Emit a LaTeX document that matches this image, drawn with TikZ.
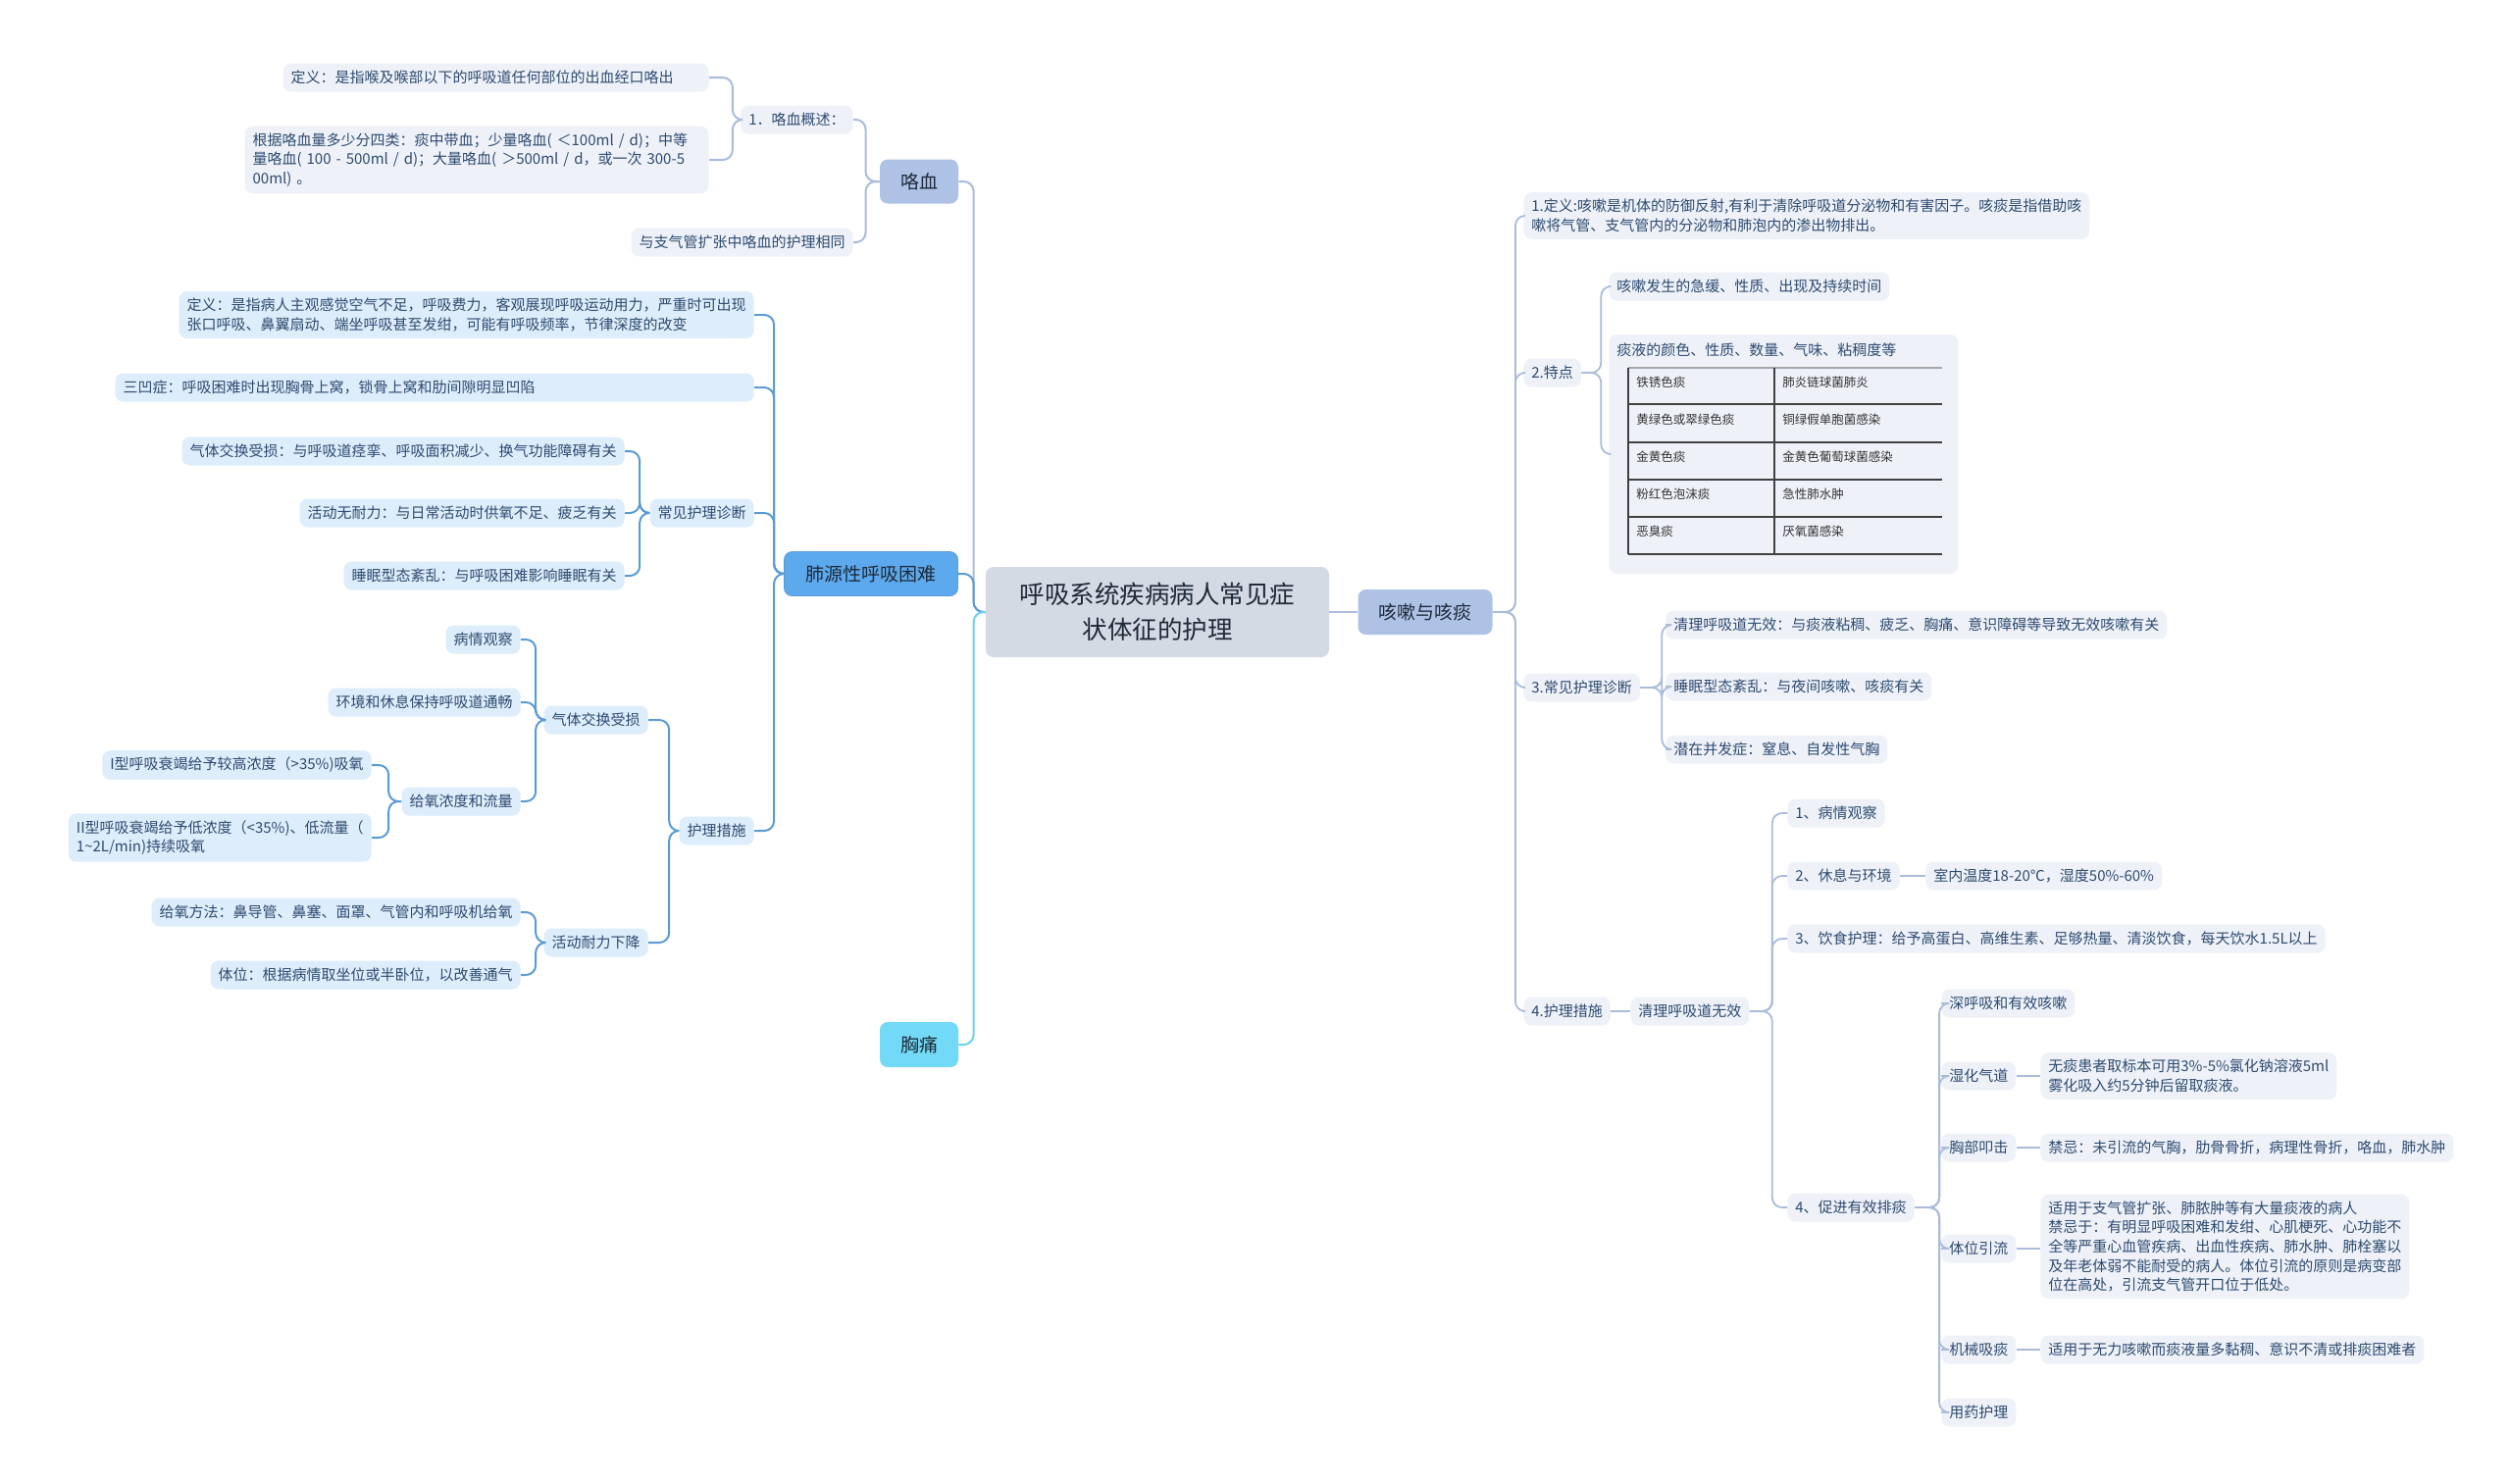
\documentclass[tikz,border=0pt]{standalone}
\usepackage{fontspec}
\setmainfont{Noto Sans CJK SC}
\definecolor{cTxt}{HTML}{2E4A70}
\definecolor{cDark}{HTML}{1E2A38}
\definecolor{cCtr}{HTML}{D4DAE4}
\definecolor{cHx}{HTML}{AEC2E6}
\definecolor{cHxLn}{HTML}{A8BCDD}
\definecolor{cFy}{HTML}{5DA9EE}
\definecolor{cFyLn}{HTML}{5B9BD5}
\definecolor{cFyLf}{HTML}{DDEDFB}
\definecolor{cXt}{HTML}{72DAF6}
\definecolor{cXtLn}{HTML}{6CD3F0}
\definecolor{cLf}{HTML}{EEF2F8}
\definecolor{cKsLn}{HTML}{AABCDA}

\begin{document}
\begin{tikzpicture}[x=0.5pt,y=-0.5pt,
    base/.style={rounded corners=4pt,inner xsep=4pt,inner ysep=3.5pt,minimum height=14.5pt,
                 font=\fontsize{7.5}{9.8}\selectfont,text=cTxt,align=left},
    lfhx/.style={base,fill=cLf,anchor=east},
    lffy/.style={base,fill=cFyLf,anchor=east},
    lfks/.style={base,fill=cLf,anchor=west},
    topic/.style={rounded corners=4pt,font=\fontsize{9.5}{11}\selectfont,text=cDark,
                  minimum height=22.5pt,inner xsep=5pt},
    lnhx/.style={draw=cHxLn,line width=1pt,rounded corners=5pt},
    lnfy/.style={draw=cFyLn,line width=1pt,rounded corners=5pt},
    lnxt/.style={draw=cXtLn,line width=1pt,rounded corners=5pt},
    lnks/.style={draw=cKsLn,line width=0.9pt,rounded corners=5pt}]

\fill[white] (0,0) rectangle (2560,1512);
\useasboundingbox (0,0) rectangle (2560,1512);

% centre and main topics
\node[rounded corners=4pt,fill=cCtr,minimum width=175pt,minimum height=46pt,align=center,
      font=\fontsize{12.75}{18}\selectfont,text=cDark] (ctr) at (1180,624)
      {呼吸系统疾病病人常见症\\状体征的护理};
\node[topic,fill=cHx,minimum width=40pt] (hx) at (937,185) {咯血};
\node[topic,fill=cFy,draw=cFyLn,line width=0.4pt,minimum width=88.5pt] (fy) at (888,585) {肺源性呼吸困难};
\node[topic,fill=cXt,minimum width=40pt,minimum height=23pt] (xt) at (937,1065) {胸痛};
\node[topic,fill=cHx,minimum width=68.5pt,minimum height=23pt] (ks) at (1453,624) {咳嗽与咳痰};

\draw[lnhx] (ctr.west) -- ++(-12,0) |- (hx.east);
\draw[lnfy] (ctr.west) -- ++(-12,0) |- (fy.east);
\draw[lnxt] (ctr.west) -- ++(-12,0) |- (xt.east);
\draw[lnks] (ctr.east) -- (ks.west);

% hemoptysis
\node[lfhx] (hxgs) at (870,122) {1．咯血概述：};
\node[lfhx] (hxhl) at (870,247) {与支气管扩张中咯血的护理相同};
\node[lfhx,text width=209pt] (hxdy) at (723,79) {定义：是指喉及喉部以下的呼吸道任何部位的出血经口咯出};
\node[lfhx,text width=228.5pt] (hxfl) at (723,163) {根据咯血量多少分四类：痰中带血；少量咯血( ＜100ml / d)；中等\\量咯血( 100 - 500ml / d)；大量咯血( ＞500ml / d，或一次 300-5\\00ml) 。};

\draw[lnhx] (hx.west) -- ++(-14,0) |- (hxgs.east);
\draw[lnhx] (hx.west) -- ++(-14,0) |- (hxhl.east);
\draw[lnhx] (hxgs.west) -- ++(-8,0) |- (hxdy.east);
\draw[lnhx] (hxgs.west) -- ++(-8,0) |- (hxfl.east);

% dyspnoea
\node[lffy] (fdy) at (769,321) {定义：是指病人主观感觉空气不足，呼吸费力，客观展现呼吸运动用力，严重时可出现\\张口呼吸、鼻翼扇动、端坐呼吸甚至发绀，可能有呼吸频率，节律深度的改变};
\node[lffy,text width=317.5pt] (fsa) at (769,395) {三凹症：呼吸困难时出现胸骨上窝，锁骨上窝和肋间隙明显凹陷};
\node[lffy] (fzd) at (769,523) {常见护理诊断};
\node[lffy] (fcs) at (769,847) {护理措施};

\node[lffy] (zd1) at (637,460) {气体交换受损：与呼吸道痉挛、呼吸面积减少、换气功能障碍有关};
\node[lffy] (zd2) at (637,523) {活动无耐力：与日常活动时供氧不足、疲乏有关};
\node[lffy] (zd3) at (637,587) {睡眠型态紊乱：与呼吸困难影响睡眠有关};

\node[lffy] (cs1) at (661,734) {气体交换受损};
\node[lffy] (cs2) at (661,961) {活动耐力下降};
\node[lffy] (q1) at (531,652) {病情观察};
\node[lffy] (q2) at (531,716) {环境和休息保持呼吸道通畅};
\node[lffy] (q3) at (531,817) {给氧浓度和流量};
\node[lffy] (y1) at (379,780) {I型呼吸衰竭给予较高浓度（>35\%)吸氧};
\node[lffy] (y2) at (379,854) {II型呼吸衰竭给予低浓度（<35\%)、低流量（\\1{\textasciitilde}2L/min)持续吸氧};
\node[lffy] (h1) at (531,930) {给氧方法：鼻导管、鼻塞、面罩、气管内和呼吸机给氧};
\node[lffy] (h2) at (531,994) {体位：根据病情取坐位或半卧位，以改善通气};

\draw[lnfy] (fy.west) -- ++(-10,0) |- (fdy.east);
\draw[lnfy] (fy.west) -- ++(-10,0) |- (fsa.east);
\draw[lnfy] (fy.west) -- ++(-10,0) |- (fzd.east);
\draw[lnfy] (fy.west) -- ++(-10,0) |- (fcs.east);
\draw[lnfy] (fzd.west) -- ++(-10,0) |- (zd1.east);
\draw[lnfy] (fzd.west) -- ++(-10,0) |- (zd2.east);
\draw[lnfy] (fzd.west) -- ++(-10,0) |- (zd3.east);
\draw[lnfy] (fcs.west) -- ++(-10,0) |- (cs1.east);
\draw[lnfy] (fcs.west) -- ++(-10,0) |- (cs2.east);
\draw[lnfy] (cs1.west) -- ++(-8,0) |- (q1.east);
\draw[lnfy] (cs1.west) -- ++(-8,0) |- (q2.east);
\draw[lnfy] (cs1.west) -- ++(-8,0) |- (q3.east);
\draw[lnfy] (q3.west) -- ++(-13,0) |- (y1.east);
\draw[lnfy] (q3.west) -- ++(-13,0) |- (y2.east);
\draw[lnfy] (cs2.west) -- ++(-8,0) |- (h1.east);
\draw[lnfy] (cs2.west) -- ++(-8,0) |- (h2.east);

% cough and sputum
\node[lfks] (kdy) at (1553,220) {1.定义:咳嗽是机体的防御反射,有利于清除呼吸道分泌物和有害因子。咳痰是指借助咳\\嗽将气管、支气管内的分泌物和肺泡内的渗出物排出。};
\node[lfks] (ktd) at (1553,380) {2.特点};
\node[lfks] (kzd) at (1553,701) {3.常见护理诊断};
\node[lfks] (kcs) at (1553,1031) {4.护理措施};

\node[lfks] (t1) at (1640,292) {咳嗽发生的急缓、性质、出现及持续时间};
\node[rounded corners=4pt,fill=cLf,anchor=west,minimum width=178pt,minimum height=122pt] (tbl) at (1640,463) {};
\node[base,anchor=west,inner sep=0pt] (tbt) at (1648,357) {痰液的颜色、性质、数量、气味、粘稠度等};
\draw[gray!70,line width=0.6pt] (1660,375) -- (1980,375);
\foreach \y in {412,451,489,527,565}
  \draw[black!75,line width=0.6pt] (1660,\y) -- (1980,\y);
\draw[black!75,line width=0.6pt] (1660,375) -- (1660,565) (1809,375) -- (1809,565);
\foreach \a/\b [count=\i] in {铁锈色痰/肺炎链球菌肺炎,黄绿色或翠绿色痰/铜绿假单胞菌感染,
    金黄色痰/金黄色葡萄球菌感染,粉红色泡沫痰/急性肺水肿,恶臭痰/厌氧菌感染}{
  \node[anchor=west,inner sep=0pt,font=\fontsize{6.25}{7}\selectfont,text=black!80] (ca\i) at (1668,{375+38*(\i-1)+15}) {\a};
  \node[anchor=west,inner sep=0pt,font=\fontsize{6.25}{7}\selectfont,text=black!80] (cb\i) at (1817,{375+38*(\i-1)+15}) {\b};
}

\node[lfks] (z1) at (1698,637) {清理呼吸道无效：与痰液粘稠、疲乏、胸痛、意识障碍等导致无效咳嗽有关};
\node[lfks] (z2) at (1698,700) {睡眠型态紊乱：与夜间咳嗽、咳痰有关};
\node[lfks] (z3) at (1698,764) {潜在并发症：窒息、自发性气胸};

\node[lfks] (qlw) at (1662,1031) {清理呼吸道无效};
\node[lfks] (c1) at (1822,829) {1、病情观察};
\node[lfks] (c2) at (1822,893) {2、休息与环境};
\node[lfks] (c2a) at (1963,893) {室内温度18-20℃，湿度50\%-60\%};
\node[lfks] (c3) at (1822,957) {3、饮食护理：给予高蛋白、高维生素、足够热量、清淡饮食，每天饮水1.5L以上};
\node[lfks] (c4) at (1822,1231) {4、促进有效排痰};

\node[lfks] (p1) at (1979,1023) {深呼吸和有效咳嗽};
\node[lfks] (p2) at (1979,1097) {湿化气道};
\node[lfks] (p2a) at (2080,1097) {无痰患者取标本可用3\%-5\%氯化钠溶液5ml\\雾化吸入约5分钟后留取痰液。};
\node[lfks] (p3) at (1979,1170) {胸部叩击};
\node[lfks] (p3a) at (2080,1170) {禁忌：未引流的气胸，肋骨骨折，病理性骨折，咯血，肺水肿};
\node[lfks] (p4) at (1979,1273) {体位引流};
\node[lfks] (p4a) at (2080,1271) {适用于支气管扩张、肺脓肿等有大量痰液的病人\\禁忌于：有明显呼吸困难和发绀、心肌梗死、心功能不\\全等严重心血管疾病、出血性疾病、肺水肿、肺栓塞以\\及年老体弱不能耐受的病人。体位引流的原则是病变部\\位在高处，引流支气管开口位于低处。};
\node[lfks] (p5) at (1979,1376) {机械吸痰};
\node[lfks] (p5a) at (2080,1376) {适用于无力咳嗽而痰液量多黏稠、意识不清或排痰困难者};
\node[lfks] (p6) at (1979,1440) {用药护理};

\draw[lnks] (ks.east) -- ++(23,0) |- (kdy.west);
\draw[lnks] (ks.east) -- ++(23,0) |- (ktd.west);
\draw[lnks] (ks.east) -- ++(23,0) |- (kzd.west);
\draw[lnks] (ks.east) -- ++(23,0) |- (kcs.west);
\draw[lnks] (ktd.east) -- ++(20,0) |- (t1.west);
\draw[lnks] (ktd.east) -- ++(20,0) |- (tbl.west);
\draw[lnks] (kzd.east) -- ++(22,0) |- (z1.west);
\draw[lnks] (kzd.east) -- ++(22,0) |- (z2.west);
\draw[lnks] (kzd.east) -- ++(22,0) |- (z3.west);
\draw[lnks] (kcs.east) -- (qlw.west);
\draw[lnks] (qlw.east) -- ++(23,0) |- (c1.west);
\draw[lnks] (qlw.east) -- ++(23,0) |- (c2.west);
\draw[lnks] (qlw.east) -- ++(23,0) |- (c3.west);
\draw[lnks] (qlw.east) -- ++(23,0) |- (c4.west);
\draw[lnks] (c2.east) -- (c2a.west);
\draw[lnks] (c4.east) -- ++(25,0) |- (p1.west);
\draw[lnks] (c4.east) -- ++(25,0) |- (p2.west);
\draw[lnks] (c4.east) -- ++(25,0) |- (p3.west);
\draw[lnks] (c4.east) -- ++(25,0) |- (p4.west);
\draw[lnks] (c4.east) -- ++(25,0) |- (p5.west);
\draw[lnks] (c4.east) -- ++(25,0) |- (p6.west);
\draw[lnks] (p2.east) -- (p2.east -| p2a.west);
\draw[lnks] (p3.east) -- (p3a.west);
\draw[lnks] (p4.east) -- (p4.east -| p4a.west);
\draw[lnks] (p5.east) -- (p5a.west);

\end{tikzpicture}
\end{document}
